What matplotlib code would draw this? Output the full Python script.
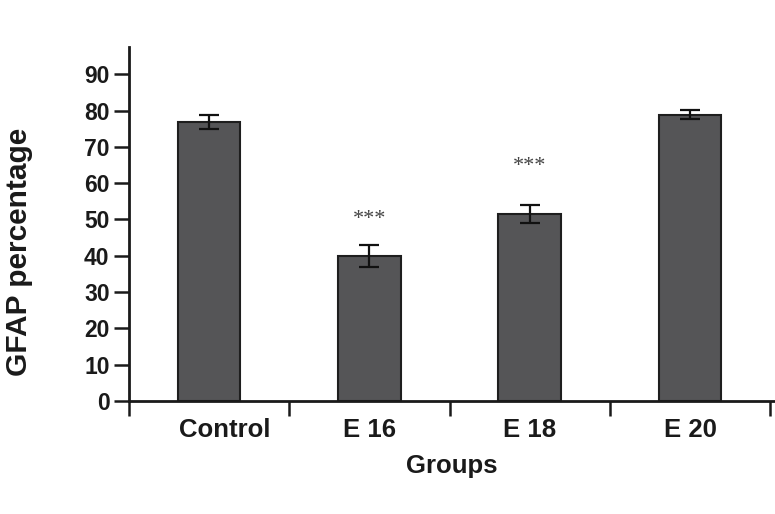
import matplotlib
matplotlib.use("Agg")
import matplotlib.pyplot as plt
import matplotlib.transforms as mtransforms
import numpy as np

# data
groups = ["Control", "E 16", "E 18", "E 20"]
means = [76.8, 40.0, 51.6, 78.9]
errs = [2.0, 3.0, 2.5, 1.2]
stars = ["", "***", "***", ""]
star_y = [0, 50.0, 64.5, 0]

plt.rcParams['font.family'] = ['Liberation Sans', 'DejaVu Sans']

fig = plt.figure(figsize=(7.75, 5.14), dpi=100)
ax = fig.add_axes([129/775, 113/514, 1 - 129/775, (401-47)/514])

x = np.arange(len(groups))
ax.bar(x, means, width=0.39, color='#555557', edgecolor='#1e1e1e', linewidth=1.5,
       yerr=errs, capsize=7, error_kw=dict(ecolor='#111111', elinewidth=1.6, capthick=1.6))

for xi, s, sy in zip(x, stars, star_y):
    if s:
        ax.text(xi, sy, s, ha='center', va='center', fontsize=16,
                family=['Liberation Serif', 'DejaVu Serif'], color='#444444')

ax.set_xlim(-0.5, 3.53)
ax.set_ylim(0, 97.5)

ax.set_yticks(np.arange(0, 91, 10))
ax.tick_params(axis='y', length=11, width=1.8, labelsize=16.5, pad=3, colors='#1a1a1a')
for lb in ax.get_yticklabels():
    lb.set_fontweight('bold')

# boundary ticks as minor, labels at bar centres
ax.set_xticks(np.arange(-0.5, 3.6, 1), minor=True)
ax.set_xticks(x)
ax.set_xticklabels(groups, fontsize=18.5, fontweight='bold', color='#1a1a1a')
ax.tick_params(axis='x', which='major', length=0, pad=12)
ax.tick_params(axis='x', which='minor', length=11, width=1.8, color='#1a1a1a')
# Control label sits a bit right of its bar
lab0 = ax.get_xticklabels()[0]
lab0.set_transform(lab0.get_transform() + mtransforms.ScaledTranslation(16/100, 0, fig.dpi_scale_trans))

ax.set_xlabel("Groups", fontsize=18.5, fontweight='bold', labelpad=9, color='#1a1a1a')
ax.set_ylabel("GFAP percentage", fontsize=21.5, fontweight='bold', color='#1a1a1a')
ax.yaxis.set_label_coords(-0.149, 0.422)

for side in ['top', 'right']:
    ax.spines[side].set_visible(False)
for side in ['left', 'bottom']:
    ax.spines[side].set_linewidth(2.0)
    ax.spines[side].set_color('#1a1a1a')

fig.savefig("out.png", dpi=100)
